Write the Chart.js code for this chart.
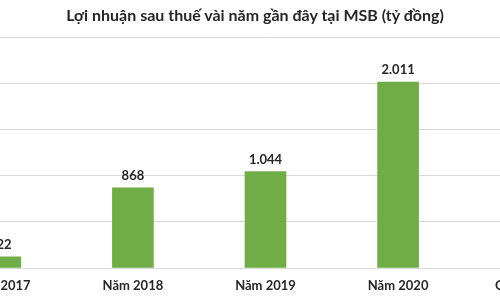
<!DOCTYPE html>
<html>
<head>
<meta charset="utf-8">
<script src="https://cdn.jsdelivr.net/npm/chart.js@4"></script>
<style>
  html, body { margin: 0; padding: 0; background: #fff; }
  #frame { position: relative; width: 500px; height: 300px; overflow: hidden; background: #fff; }
  #title {
    position: absolute; left: 0; top: 5px; width: 510px; text-align: center;
    font-family: Lato, "Open Sans", sans-serif; font-weight: bold; font-size: 16px; color: #262626;
  }
  #canvas { position: absolute; left: -66px; top: 0; }
</style>
</head>
<body>
<div id="frame">
  <canvas id="canvas" width="663" height="300"></canvas>
  <div id="title">Lợi nhuận sau thuế vài năm gần đây tại MSB (tỷ đồng)</div>
</div>
<script>
const years = ['Năm 2017', 'Năm 2018', 'Năm 2019', 'Năm 2020', 'Quý 1/2021'];
const profit = [122, 868, 1044, 2011, 868];
const yMax = 2500;
const yStep = 500;

function fmt(v){
    return String(v).replace(/\B(?=(\d{3})+(?!\d))/g, '.');
}

// labels above each bar
const barLabels = {
    id: 'barLabels',
    afterDatasetsDraw(chart){
        const ctx = chart.ctx;
        const meta = chart.getDatasetMeta(0);
        ctx.save();
        ctx.font = 'bold 13px Lato, "Open Sans", sans-serif';
        ctx.fillStyle = '#262626';
        ctx.textAlign = 'center';
        ctx.textBaseline = 'middle';
        meta.data.forEach((bar, i) => {
            ctx.fillText(fmt(profit[i]), bar.x, bar.y - 12);
        });
        ctx.restore();
    }
};

const ctx = document.getElementById('canvas').getContext('2d');
const myChart = new Chart(ctx, {
    type: 'bar',
    data: {
        labels: years,
        datasets: [{
            data: profit,
            backgroundColor: '#70ad47',
            barThickness: 41
        }]
    },
    options: {
        responsive: false,
        animation: false,
        devicePixelRatio: 1,
        layout: { padding: { top: 37, left: 0, right: 0, bottom: 0 } },
        plugins: {
            legend: { display: false },
            tooltip: { enabled: false }
        },
        scales: {
            x: {
                grid: { display: false, drawTicks: false },
                border: { display: true, color: '#d9d9d9' },
                ticks: {
                    padding: 10,
                    color: '#262626',
                    font: { family: 'Lato, "Open Sans", sans-serif', weight: 'bold', size: 13 }
                },
                afterFit(scale){ scale.height = 32; }
            },
            y: {
                min: 0,
                max: yMax,
                ticks: { stepSize: yStep, display: false },
                grid: { color: '#d9d9d9', drawTicks: false },
                border: { display: false },
                afterFit(scale){ scale.width = 0; }
            }
        }
    },
    plugins: [barLabels]
});
</script>
</body>
</html>
